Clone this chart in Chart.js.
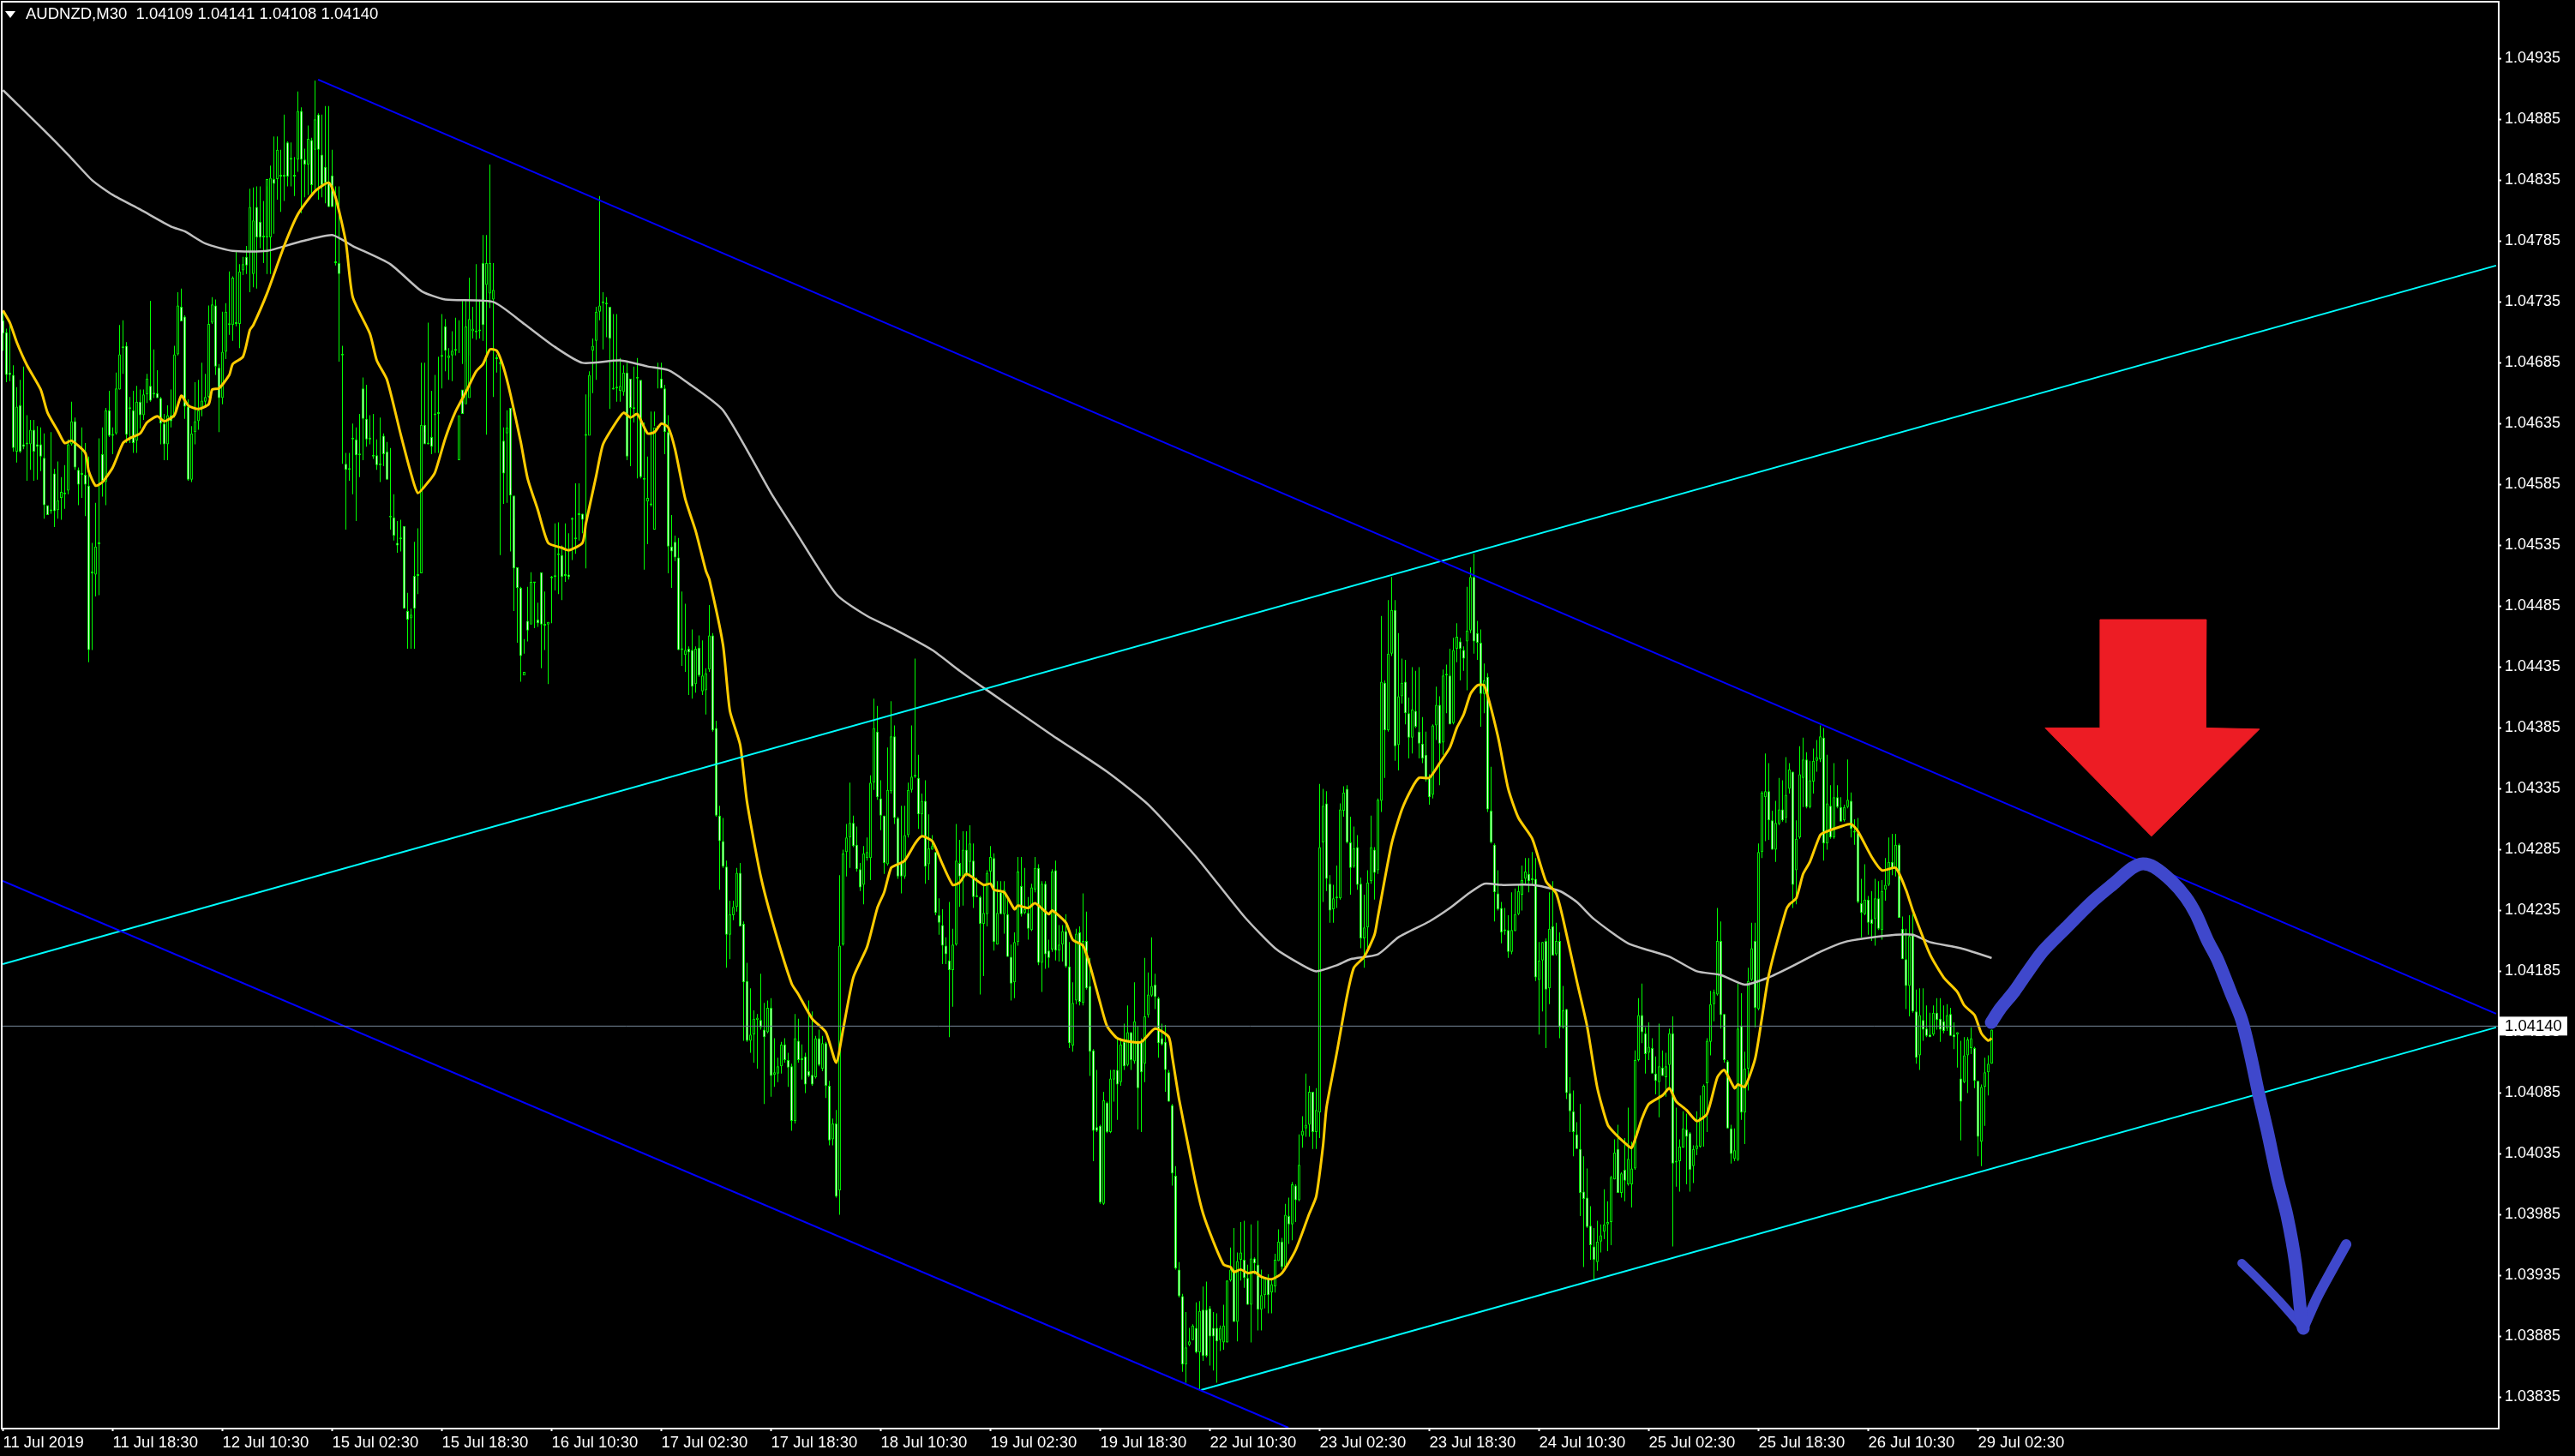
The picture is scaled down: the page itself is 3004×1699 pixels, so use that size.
<!DOCTYPE html>
<html>
<head>
<meta charset="utf-8">
<title>AUDNZD,M30</title>
<script src="https://cdn.jsdelivr.net/npm/chart.js@4"></script>
<style>
  html, body { margin: 0; padding: 0; background: #000; }
  canvas { display: block; }
</style>
</head>
<body>
<canvas id="chart" width="3004" height="1699"></canvas>
<script>
// candle values in points above 1.03000 (1 point = 0.00001), one bar per 30 minutes, 10 bars a line
const opens = [
1720,1710,1677,1675,1612,1650,1618,1618,1618,1630,
1618,1618,1607,1568,1563,1594,1564,1574,1577,1580,
1618,1637,1597,1594,1593,1584,1513,1511,1536,1610,
1587,1646,1625,1627,1663,1697,1699,1647,1646,1621,
1653,1642,1659,1666,1659,1660,1656,1635,1618,1642,
1642,1692,1731,1723,1649,1589,1628,1637,1647,1653,
1657,1718,1732,1681,1656,1694,1716,1716,1717,1717,
1761,1772,1776,1758,1813,1801,1788,1788,1788,1836,
1836,1838,1838,1866,1852,1839,1852,1892,1852,1848,
1868,1860,1889,1856,1846,1833,1839,1767,1767,1691,
1602,1597,1622,1622,1609,1664,1639,1622,1608,1609,
1601,1625,1612,1558,1558,1537,1540,1551,1481,1475,
1510,1510,1512,1634,1618,1624,1642,1643,1690,1715,
1689,1691,1695,1605,1663,1651,1656,1711,1710,1711,
1767,1749,1742,1737,1688,1684,1621,1627,1648,1576,
1517,1500,1428,1473,1470,1504,1474,1513,1469,1470,
1508,1509,1527,1527,1510,1511,1556,1540,1560,1561,
1625,1625,1695,1703,1727,1734,1733,1731,1664,1664,
1662,1661,1677,1672,1647,1672,1671,1589,1571,1568,
1548,1632,1672,1664,1628,1534,1538,1525,1449,1445,
1450,1449,1421,1451,1415,1416,1433,1461,1385,1313,
1292,1271,1215,1231,1238,1266,1224,1177,1128,1133,
1145,1145,1137,1135,1155,1100,1101,1107,1125,1112,
1107,1062,1128,1112,1115,1103,1100,1098,1130,1105,
1126,1091,1047,1060,1005,1207,1283,1295,1307,1289,
1269,1256,1278,1278,1340,1382,1327,1313,1273,1333,
1378,1311,1274,1263,1297,1334,1345,1344,1314,1325,
1273,1285,1283,1231,1223,1206,1194,1186,1207,1274,
1263,1285,1275,1276,1247,1246,1224,1232,1267,1278,
1207,1250,1232,1232,1197,1176,1209,1255,1233,1233,
1219,1252,1270,1192,1257,1202,1203,1268,1202,1207,
1218,1189,1124,1161,1217,1159,1210,1173,1120,1057,
1058,994,1077,1053,1096,1104,1094,1127,1108,1135,
1111,1128,1128,1109,1149,1165,1174,1163,1130,1127,
1102,1075,1017,940,918,862,878,882,892,872,
907,907,908,892,892,882,880,880,931,940,
897,948,948,933,911,949,944,907,919,933,
921,926,947,963,942,984,977,1009,997,1050,
1056,1059,1086,1053,1069,1291,1323,1257,1236,1245,
1245,1317,1335,1291,1271,1287,1257,1212,1221,1259,
1285,1268,1325,1422,1383,1446,1482,1371,1411,1423,
1397,1377,1399,1382,1372,1363,1344,1330,1387,1404,
1373,1428,1428,1389,1450,1456,1449,1456,1465,1509,
1463,1455,1413,1427,1317,1289,1249,1237,1219,1219,
1201,1218,1232,1248,1261,1265,1260,1261,1178,1194,
1210,1171,1222,1199,1210,1139,1154,1085,1070,1051,
1039,1004,999,976,959,946,963,971,977,979,
1014,1039,1003,1022,1010,1010,1023,1112,1149,1134,
1118,1122,1101,1094,1106,1098,1108,1134,1028,1029,
1040,1055,1052,1025,1039,1041,1065,1093,1127,1158,
1166,1210,1150,1111,1056,1031,1030,1140,1069,1105,
1178,1210,1154,1283,1328,1333,1309,1285,1306,1318,
1311,1335,1349,1268,1295,1344,1359,1320,1341,1358,
1359,1377,1290,1321,1295,1328,1320,1309,1320,1325,
1300,1299,1241,1232,1244,1228,1228,1245,1219,1252,
1256,1275,1270,1289,1220,1195,1173,1216,1152,1116,
1145,1138,1133,1133,1151,1146,1144,1138,1150,1133,
1133,1097,1094,1116,1122,1122,1095,1045,1090,1102,
1109
];
const closes = [
1709,1675,1675,1615,1649,1612,1616,1618,1630,1612,
1616,1608,1568,1560,1563,1563,1572,1579,1578,1618,
1637,1599,1585,1593,1585,1449,1512,1534,1536,1588,
1646,1625,1625,1664,1692,1697,1626,1647,1619,1653,
1642,1659,1672,1654,1659,1656,1635,1618,1642,1637,
1692,1732,1719,1649,1589,1627,1637,1646,1654,1657,
1717,1733,1682,1656,1694,1727,1716,1755,1717,1760,
1766,1765,1813,1802,1788,1788,1788,1836,1837,1832,
1860,1838,1838,1838,1852,1838,1892,1852,1848,1869,
1831,1885,1860,1831,1833,1813,1813,1767,1758,1691,
1597,1597,1622,1609,1609,1639,1622,1622,1608,1601,
1601,1610,1589,1558,1543,1535,1540,1483,1474,1478,
1483,1510,1634,1618,1618,1616,1642,1643,1690,1695,
1691,1695,1696,1642,1643,1715,1721,1713,1711,1711,
1716,1767,1767,1745,1688,1684,1594,1632,1576,1516,
1500,1444,1431,1465,1505,1504,1471,1470,1470,1472,
1508,1509,1527,1509,1511,1509,1556,1540,1560,1556,
1625,1675,1699,1727,1732,1734,1733,1705,1663,1665,
1666,1677,1608,1648,1648,1672,1591,1589,1574,1568,
1632,1633,1664,1628,1534,1530,1525,1449,1450,1449,
1447,1419,1450,1428,1428,1430,1461,1383,1313,1292,
1271,1215,1232,1238,1266,1222,1176,1128,1133,1146,
1147,1139,1131,1155,1099,1102,1107,1125,1112,1106,
1062,1130,1112,1112,1092,1099,1092,1130,1108,1126,
1091,1046,1060,1000,1206,1282,1295,1307,1288,1269,
1254,1282,1283,1340,1385,1328,1313,1274,1334,1378,
1311,1263,1263,1297,1334,1345,1345,1314,1325,1271,
1286,1288,1233,1225,1206,1199,1186,1207,1276,1263,
1285,1265,1290,1246,1246,1224,1233,1266,1279,1209,
1233,1232,1252,1197,1175,1209,1267,1232,1236,1220,
1254,1270,1192,1257,1199,1196,1267,1202,1207,1218,
1189,1126,1159,1216,1160,1210,1171,1119,1054,1054,
995,1079,1053,1097,1104,1092,1125,1107,1135,1112,
1144,1089,1102,1148,1166,1173,1164,1126,1125,1104,
1078,1019,941,918,862,876,881,894,872,906,
869,869,885,885,881,892,894,931,940,897,
947,954,933,911,949,945,907,919,933,919,
928,948,963,942,985,977,1010,997,1026,1054,
1059,1086,1053,1071,1287,1321,1261,1235,1245,1246,
1318,1332,1291,1270,1286,1256,1212,1221,1258,1287,
1266,1326,1423,1383,1446,1482,1370,1411,1422,1397,
1377,1400,1386,1372,1360,1344,1328,1387,1404,1372,
1428,1428,1388,1449,1460,1450,1442,1465,1509,1456,
1455,1413,1424,1318,1291,1250,1236,1217,1218,1201,
1219,1232,1251,1260,1267,1259,1260,1180,1194,1209,
1170,1220,1198,1210,1139,1153,1085,1070,1053,1039,
1003,998,975,960,948,963,968,977,979,1016,
1036,1003,1019,1013,1031,1023,1112,1149,1135,1117,
1123,1101,1095,1107,1099,1107,1134,1027,1028,1041,
1056,1049,1022,1039,1042,1065,1091,1128,1158,1168,
1210,1149,1112,1056,1035,1038,1138,1069,1105,1177,
1204,1155,1283,1332,1333,1309,1285,1307,1318,1309,
1330,1351,1256,1294,1347,1359,1320,1342,1358,1361,
1378,1290,1323,1295,1328,1320,1308,1320,1326,1302,
1299,1242,1233,1244,1225,1224,1245,1220,1251,1256,
1275,1270,1289,1229,1195,1173,1214,1152,1114,1149,
1137,1132,1131,1151,1145,1137,1136,1149,1132,1131,
1135,1078,1116,1129,1130,1095,1049,1090,1102,1109,
1137
];
const highs = [
1727,1713,1718,1683,1665,1671,1682,1642,1638,1638,
1633,1632,1627,1539,1628,1598,1604,1591,1601,1622,
1653,1640,1599,1632,1619,1608,1537,1570,1623,1632,
1648,1662,1632,1677,1716,1720,1702,1657,1662,1666,
1663,1663,1676,1736,1696,1679,1657,1643,1650,1663,
1699,1743,1746,1724,1655,1633,1669,1671,1685,1676,
1732,1739,1737,1684,1727,1734,1760,1756,1777,1766,
1772,1781,1828,1829,1830,1830,1818,1830,1847,1871,
1871,1860,1889,1867,1866,1854,1908,1895,1861,1880,
1870,1917,1890,1889,1896,1896,1860,1830,1830,1699,
1611,1611,1635,1632,1643,1673,1667,1642,1643,1622,
1640,1627,1620,1615,1577,1555,1556,1548,1496,1483,
1538,1549,1685,1685,1718,1662,1675,1690,1725,1721,
1697,1711,1722,1720,1736,1736,1755,1731,1766,1737,
1790,1790,1848,1767,1692,1690,1632,1646,1582,1557,
1502,1501,1458,1501,1513,1505,1488,1478,1497,1472,
1510,1553,1554,1535,1553,1545,1558,1586,1586,1561,
1659,1678,1705,1731,1822,1743,1739,1724,1725,1725,
1689,1683,1685,1657,1682,1689,1636,1636,1608,1645,
1645,1685,1685,1667,1642,1560,1543,1541,1497,1487,
1452,1466,1452,1461,1457,1434,1486,1463,1391,1321,
1311,1276,1243,1243,1270,1274,1226,1192,1171,1153,
1150,1183,1159,1161,1163,1130,1114,1127,1130,1118,
1109,1150,1146,1125,1118,1161,1152,1132,1137,1132,
1127,1095,1064,1071,1264,1285,1306,1340,1313,1304,
1274,1288,1295,1346,1409,1403,1342,1313,1369,1407,
1387,1312,1321,1321,1340,1387,1442,1363,1331,1342,
1314,1297,1283,1245,1236,1213,1242,1220,1306,1293,
1300,1300,1305,1290,1262,1247,1255,1268,1288,1282,
1259,1259,1259,1247,1207,1217,1279,1279,1270,1246,
1257,1279,1273,1259,1259,1211,1269,1276,1223,1223,
1232,1209,1176,1220,1222,1249,1234,1196,1121,1104,
1059,1086,1078,1104,1104,1130,1130,1142,1157,1135,
1176,1140,1130,1196,1184,1213,1183,1164,1142,1141,
1104,1076,1025,946,920,905,892,895,913,914,
926,930,910,905,904,894,911,931,958,974,
954,979,980,944,977,950,980,940,934,936,
932,953,973,966,994,999,1012,1010,1051,1066,
1101,1091,1086,1089,1339,1335,1333,1264,1256,1272,
1323,1337,1338,1312,1304,1297,1262,1248,1268,1313,
1287,1327,1477,1424,1490,1509,1490,1463,1442,1441,
1410,1435,1432,1435,1394,1382,1347,1388,1419,1411,
1433,1437,1450,1459,1471,1459,1452,1501,1517,1528,
1473,1466,1438,1430,1353,1290,1268,1242,1237,1231,
1250,1253,1256,1272,1278,1278,1283,1278,1209,1209,
1212,1250,1259,1225,1217,1173,1154,1098,1087,1061,
1076,1033,1023,992,974,980,977,1006,996,1017,
1047,1059,1020,1048,1073,1045,1120,1163,1175,1139,
1143,1130,1115,1142,1120,1118,1138,1148,1073,1047,
1070,1068,1053,1042,1070,1083,1092,1130,1169,1170,
1237,1226,1150,1112,1059,1056,1175,1167,1119,1188,
1225,1225,1290,1333,1364,1356,1317,1325,1344,1342,
1361,1356,1349,1309,1370,1377,1365,1358,1368,1375,
1387,1385,1363,1338,1356,1338,1328,1322,1359,1332,
1310,1311,1261,1273,1247,1251,1261,1259,1260,1278,
1295,1298,1298,1290,1230,1220,1231,1232,1170,1171,
1171,1157,1151,1157,1163,1163,1157,1158,1155,1143,
1135,1128,1131,1131,1139,1123,1095,1092,1114,1116,
1137
];
const lows = [
1695,1669,1670,1612,1603,1611,1614,1588,1597,1588,
1589,1596,1557,1539,1561,1550,1557,1556,1565,1577,
1617,1597,1568,1574,1559,1439,1449,1493,1494,1575,
1568,1624,1610,1626,1663,1676,1619,1619,1611,1611,
1631,1638,1652,1653,1656,1656,1618,1605,1605,1632,
1640,1691,1719,1639,1588,1587,1618,1630,1641,1650,
1656,1717,1675,1628,1651,1688,1708,1703,1715,1697,
1757,1758,1743,1747,1746,1779,1767,1758,1758,1791,
1819,1809,1818,1830,1830,1822,1842,1808,1821,1823,
1824,1827,1819,1821,1816,1813,1813,1765,1686,1602,
1548,1588,1577,1555,1591,1605,1616,1618,1606,1597,
1587,1600,1589,1548,1539,1529,1530,1483,1450,1450,
1450,1495,1512,1628,1618,1610,1611,1611,1664,1678,
1671,1670,1691,1693,1684,1686,1691,1705,1704,1705,
1703,1626,1730,1657,1677,1527,1569,1570,1530,1481,
1455,1423,1446,1456,1502,1467,1468,1434,1449,1421,
1471,1498,1495,1490,1505,1507,1523,1528,1539,1545,
1516,1657,1660,1671,1720,1696,1706,1647,1663,1653,
1653,1658,1605,1600,1636,1590,1590,1515,1536,1567,
1633,1664,1664,1610,1512,1500,1522,1449,1436,1431,
1412,1409,1414,1427,1412,1396,1431,1382,1312,1252,
1270,1188,1195,1227,1234,1222,1128,1127,1118,1110,
1105,1137,1076,1134,1082,1090,1094,1101,1110,1090,
1054,1060,1110,1096,1085,1098,1091,1097,1107,1103,
1081,1042,1042,999,985,1206,1263,1270,1287,1267,
1251,1240,1276,1260,1334,1326,1301,1265,1272,1331,
1306,1261,1249,1261,1295,1332,1344,1302,1295,1257,
1260,1285,1231,1215,1191,1191,1131,1156,1206,1238,
1239,1263,1263,1237,1246,1166,1181,1222,1256,1202,
1207,1232,1216,1197,1161,1163,1206,1230,1232,1211,
1218,1250,1190,1168,1187,1188,1201,1194,1193,1193,
1188,1122,1119,1158,1157,1157,1170,1099,1029,1053,
994,993,1052,1052,1078,1063,1091,1104,1107,1104,
1109,1055,1053,1094,1147,1164,1154,1114,1124,1086,
1078,1009,940,917,856,847,877,882,871,841,
865,868,861,857,847,873,874,880,930,897,
881,931,925,911,880,936,890,890,908,904,
904,921,947,940,941,961,964,979,996,1040,
1049,1049,1039,1039,1048,1242,1251,1225,1225,1237,
1244,1312,1290,1248,1270,1252,1204,1188,1202,1257,
1244,1265,1316,1344,1382,1444,1358,1350,1405,1388,
1360,1364,1385,1360,1356,1341,1322,1327,1375,1338,
1363,1397,1388,1388,1439,1424,1432,1416,1463,1446,
1441,1386,1397,1316,1290,1226,1235,1208,1215,1196,
1199,1218,1231,1235,1256,1250,1256,1177,1133,1152,
1122,1158,1198,1198,1130,1138,1080,1053,1033,1039,
984,942,974,948,931,939,954,965,955,960,
1014,1003,999,996,1009,991,1022,1111,1126,1101,
1112,1101,1084,1065,1099,1082,1090,959,1008,1004,
1040,1010,1004,1011,1034,1040,1041,1053,1116,1144,
1165,1138,1110,1056,1027,1029,1029,1063,1043,1087,
1177,1139,1153,1278,1292,1293,1285,1275,1305,1308,
1307,1331,1237,1240,1294,1320,1319,1319,1331,1349,
1357,1276,1285,1294,1294,1319,1308,1308,1319,1295,
1289,1241,1213,1231,1215,1210,1206,1219,1211,1243,
1255,1264,1263,1229,1195,1154,1148,1151,1109,1104,
1128,1131,1131,1132,1137,1127,1134,1136,1132,1121,
1106,1046,1093,1085,1117,1089,1033,1025,1058,1083,
1109
];

// moving averages, read at their turning points: bar number and points above 1.03000
const fastBars = [0,2,4,7,11,13,16,18,20,24,25,27,29,32,35,37,40,42,45,47,50,52,54,57,60,61,63,66,67,70,72,73,77,82,86,91,95,97,100,102,107,109,112,116,119,121,124,126,129,132,135,138,140,142,144,146,148,151,153,156,159,163,165,169,170,173,175,179,181,183,185,188,190,192,194,196,199,202,205,206,210,212,215,217,221,225,230,232,236,240,243,245,248,252,255,257,259,261,263,266,268,271,274,277,279,281,286,288,289,292,295,296,299,301,305,306,310,312,315,317,320,322,325,329,332,336,340,341,343,346,348,350,353,356,358,359,361,363,365,367,370,373,377,381,383,385,386,389,392,394,397,400,401,405,408,411,413,416,419,422,424,426,428,430,432,436,439,442,446,450,453,455,459,462,465,468,470,473,475,478,480,484,486,488,491,494,497,500,502,505,506,508,511,513,515,520,521,523,525,527,530,532,536,539,541,545,548,552,555,557,562,566,570,572,575,577,579,580];
const fastVals = [1728,1718,1702,1683,1663,1644,1629,1619,1621,1611,1596,1584,1587,1599,1619,1623,1627,1636,1641,1637,1642,1658,1650,1647,1651,1663,1664,1675,1684,1690,1712,1716,1742,1781,1807,1826,1833,1821,1784,1739,1709,1687,1671,1626,1594,1578,1587,1595,1623,1645,1661,1678,1684,1696,1695,1681,1659,1620,1590,1564,1537,1533,1531,1537,1553,1592,1618,1637,1644,1640,1643,1627,1628,1635,1632,1614,1573,1547,1514,1507,1453,1399,1371,1324,1263,1220,1175,1166,1146,1135,1110,1137,1180,1205,1237,1250,1270,1273,1276,1290,1296,1292,1273,1256,1258,1265,1256,1257,1252,1250,1236,1239,1237,1241,1232,1235,1225,1211,1206,1190,1159,1140,1130,1127,1127,1138,1131,1115,1080,1037,1009,986,963,944,942,938,940,937,938,934,932,937,956,986,1000,1042,1073,1118,1165,1188,1197,1215,1230,1290,1318,1336,1344,1344,1356,1369,1385,1396,1413,1420,1420,1378,1335,1311,1294,1259,1249,1228,1177,1140,1089,1059,1052,1044,1040,1064,1076,1083,1089,1078,1071,1062,1068,1098,1104,1089,1092,1090,1113,1147,1182,1235,1240,1245,1265,1275,1297,1300,1304,1306,1300,1279,1268,1270,1252,1235,1199,1180,1168,1157,1149,1134,1128,1130];
const slowBars = [0,12,19,26,32,40,49,53,59,67,77,86,96,102,113,122,129,143,152,161,169,180,188,194,199,210,224,231,243,252,260,271,279,287,306,322,334,348,362,371,379,383,389,393,401,407,416,422,427,432,437,446,454,459,464,474,486,494,501,508,515,521,530,537,543,552,557,562,571,580];
const slowVals = [1909,1876,1856,1835,1823,1811,1797,1793,1783,1777,1777,1784,1790,1781,1766,1744,1737,1735,1717,1698,1685,1687,1682,1679,1670,1646,1578,1547,1495,1477,1466,1449,1432,1416,1379,1349,1322,1279,1230,1204,1190,1185,1190,1195,1199,1213,1226,1237,1248,1257,1256,1256,1251,1242,1228,1208,1197,1185,1182,1174,1180,1188,1201,1209,1212,1215,1215,1209,1204,1196];

// trend lines: [start bar, end bar] and [start value, end value]
const channelUpperBars = [91.9, 727.1];
const channelUpperVals = [1917.7, 1150.2];
const channelLowerBars = [-0.1, 374.9];
const channelLowerVals = [1259.3, 810];
const riseUpperBars = [-0.1, 727.1];
const riseUpperVals = [1191, 1764.9];
const riseLowerBars = [349.4, 727.1];
const riseLowerVals = [841, 1138.9];

// hand drawn forecast and the red arrow, same units
const brushBars = [579.9,582.4,586.6,589.9,594.9,601.6,609.1,615.9,620.9,624.1,627.4,632.4,636.6,639.6,642.9,645.9,649.9,652.9,655.4,657.9,660.4,663.4,666.1,668.6,670.4,670.9];
const brushVals = [1143,1154,1168.5,1182,1201.5,1220.6,1241.7,1257.9,1269.8,1273.4,1270.6,1259.3,1245.9,1231.8,1210.7,1194.5,1166.3,1145.2,1117,1083.9,1053.6,1014.2,984.6,945.2,897.3,891.7];
const barbLeftBars = [652.9,656.6,664.1,670.9];
const barbLeftVals = [945.2,935.3,913.5,891.7];
const barbRightBars = [670.9,674.9,679.9,683.4];
const barbRightVals = [891.7,917,943,960.7];
const arrowBars = [611.6,642.6,642.4,658.1,626.6,595.6,611.4,611.6];
const arrowVals = [1474,1474,1385,1384,1296,1385,1385,1474];

// axis labels
const priceTicks = [835,885,935,985,1035,1085,1135,1185,1235,1285,1335,1385,1435,1485,1535,1585,1635,1685,1735,1785,1835,1885,1935];
const timeTickBars = [0,32,64,96,128,160,192,224,256,288,320,352,384,416,448,480,512,544,576];
const timeTickLabels = ['11 Jul 2019','11 Jul 18:30','12 Jul 10:30','15 Jul 02:30','15 Jul 18:30','16 Jul 10:30','17 Jul 02:30','17 Jul 18:30','18 Jul 10:30','19 Jul 02:30','19 Jul 18:30','22 Jul 10:30','23 Jul 02:30','23 Jul 18:30','24 Jul 10:30','25 Jul 02:30','25 Jul 18:30','26 Jul 10:30','29 Jul 02:30'];
const header = 'AUDNZD,M30  1.04109 1.04141 1.04108 1.04140';
const lastPoints = 1140;

const FONT = '"Liberation Sans", sans-serif';
const toPrice = p => 1.03 + p / 100000;
const pairs = (xs, ys) => xs.map((x, i) => ({ x: x, y: toPrice(ys[i]) }));

const wicks = highs.map((h, i) => ({ x: i, y: [toPrice(lows[i]), toPrice(h)] }));
const bullBodies = [];
const bearBodies = [];
opens.forEach((o, i) => {
  const body = { x: i, y: [toPrice(o), toPrice(closes[i])] };
  (closes[i] >= o ? bullBodies : bearBodies).push(body);
});

function trend(xs, ys, color, order) {
  return { type: 'line', data: pairs(xs, ys), borderColor: color, borderWidth: 2, pointRadius: 0, order: order };
}
function brush(xs, ys, width) {
  return {
    type: 'line', data: pairs(xs, ys), borderColor: '#3f48cc', borderWidth: width, pointRadius: 0,
    tension: 0.3, borderCapStyle: 'round', borderJoinStyle: 'round', order: 1
  };
}

// frame, header and the last price box are not part of any axis
const terminalChrome = {
  id: 'terminalChrome',
  afterDraw(chart) {
    const ctx = chart.ctx;
    const a = chart.chartArea;
    ctx.save();
    ctx.strokeStyle = '#fff';
    ctx.lineWidth = 2;
    ctx.strokeRect(a.left - 1, a.top - 1, a.right - a.left + 2, a.bottom - a.top + 2);

    ctx.fillStyle = '#fff';
    ctx.beginPath();
    ctx.moveTo(6, 13);
    ctx.lineTo(18, 13);
    ctx.lineTo(12, 21);
    ctx.closePath();
    ctx.fill();
    ctx.font = '18.5px ' + FONT;
    ctx.textBaseline = 'middle';
    ctx.textAlign = 'left';
    ctx.fillText(header, 30, 17);

    const y = chart.scales.y.getPixelForValue(toPrice(lastPoints));
    ctx.fillStyle = '#fff';
    ctx.fillRect(a.right + 1, y - 11, 80, 22);
    ctx.fillStyle = '#000';
    ctx.fillText(toPrice(lastPoints).toFixed(5), a.right + 8, y + 1);
    ctx.restore();
  }
};

new Chart(document.getElementById('chart'), {
  data: {
    datasets: [
      { type: 'bar', data: wicks, maxBarThickness: 1, grouped: false, backgroundColor: '#00ff00', order: 9 },
      { type: 'bar', data: bullBodies, maxBarThickness: 3, grouped: false, minBarLength: 2, backgroundColor: '#000', borderColor: '#00ff00', borderWidth: 1, borderSkipped: false, order: 8 },
      { type: 'bar', data: bearBodies, maxBarThickness: 3, grouped: false, minBarLength: 2, backgroundColor: '#fff', borderColor: '#00ff00', borderWidth: 1, borderSkipped: false, order: 8 },
      { type: 'line', data: pairs(slowBars, slowVals), borderColor: '#c0c0c0', borderWidth: 2.5, pointRadius: 0, tension: 0.2, order: 7 },
      { type: 'line', data: pairs(fastBars, fastVals), borderColor: '#ffcc00', borderWidth: 3, pointRadius: 0, tension: 0.2, order: 6 },
      trend(channelUpperBars, channelUpperVals, '#0000ff', 5),
      trend(channelLowerBars, channelLowerVals, '#0000ff', 5),
      trend(riseUpperBars, riseUpperVals, '#00ffff', 5),
      trend(riseLowerBars, riseLowerVals, '#00ffff', 5),
      { type: 'line', data: pairs([-0.1, 727.6], [lastPoints, lastPoints]), borderColor: '#778899', borderWidth: 1, pointRadius: 0, order: 4 },
      { type: 'line', data: pairs(arrowBars, arrowVals), borderColor: '#ed1c24', borderWidth: 1, backgroundColor: '#ed1c24', fill: 'shape', pointRadius: 0, order: 2 },
      brush(brushBars, brushVals, 15),
      brush(barbLeftBars, barbLeftVals, 10),
      brush(barbRightBars, barbRightVals, 12)
    ]
  },
  options: {
    responsive: false,
    animation: false,
    devicePixelRatio: 1,
    layout: { padding: { left: 3, top: 3, right: 0, bottom: 0 } },
    plugins: { legend: { display: false }, tooltip: { enabled: false } },
    scales: {
      x: {
        type: 'linear',
        offset: false,
        min: -0.125,
        max: 727.625,
        afterFit: s => { s.height = 33; s.paddingLeft = 0; s.paddingRight = 0; },
        afterBuildTicks: s => { s.ticks = timeTickBars.map(v => ({ value: v })); },
        border: { display: false },
        grid: { offset: false, drawOnChartArea: false, drawTicks: true, tickLength: 4, tickColor: '#fff', tickWidth: 2 },
        ticks: {
          align: 'start', autoSkip: false, maxRotation: 0, padding: 3, color: '#fff',
          font: { family: FONT, size: 18.5 },
          callback: (v, i) => timeTickLabels[i]
        }
      },
      y: {
        position: 'right',
        min: toPrice(810),
        max: toPrice(1981),
        afterFit: s => { s.width = 90; s.paddingTop = 0; s.paddingBottom = 0; },
        afterBuildTicks: s => { s.ticks = priceTicks.map(p => ({ value: toPrice(p) })); },
        border: { display: false },
        grid: { drawOnChartArea: false, drawTicks: true, tickLength: 4, tickColor: '#fff', tickWidth: 2 },
        ticks: {
          autoSkip: false, padding: 4, color: '#fff',
          font: { family: FONT, size: 18 },
          callback: v => v.toFixed(5)
        }
      }
    }
  },
  plugins: [terminalChrome]
});
</script>
</body>
</html>
